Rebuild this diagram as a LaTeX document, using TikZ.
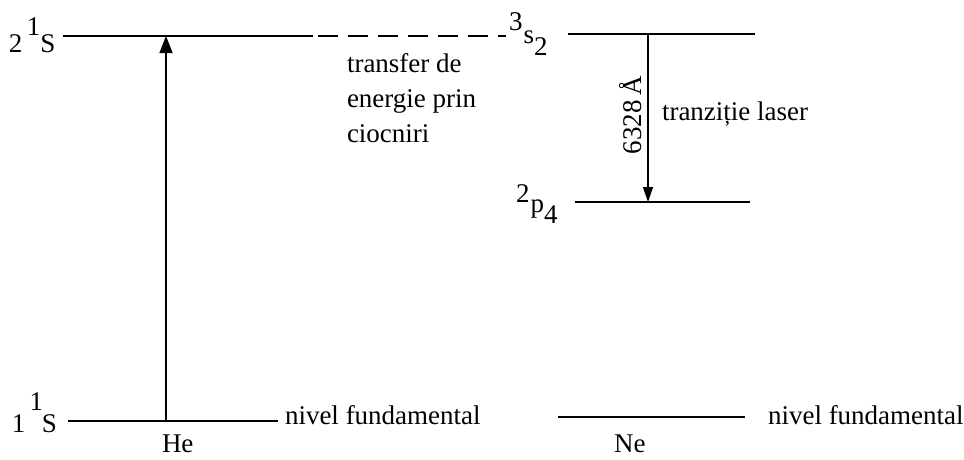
\documentclass[tikz,border=0pt]{standalone}
\usepackage{fontspec}
\setmainfont{Liberation Serif}
\usetikzlibrary{arrows.meta}
\begin{document}
\begin{tikzpicture}[x=1pt,y=-1pt,
  every node/.style={inner sep=0pt,outer sep=0pt,font=\fontsize{27}{35}\selectfont},
  level/.style={line width=1.3pt},
  txt/.style={anchor=base west},
  up/.style={line width=1.3pt,-{Triangle[length=17pt,width=13pt]}},
  down/.style={line width=1.3pt,-{Triangle[length=15pt,width=10pt]}}]
\useasboundingbox (0,0) rectangle (964,459);
% He levels
\coordinate (he2a) at (63,36);
\coordinate (he2b) at (313,36);
\coordinate (he1a) at (68,421);
\coordinate (he1b) at (278,421);
\coordinate (heup0) at (166,421);
\coordinate (heup1) at (166,36);
\draw[level] (he2a) -- (he2b);
\draw[level] (he1a) -- (he1b);
\draw[up] (heup0) -- (heup1);
% dashed transfer
\coordinate (da) at (318,36);
\coordinate (db) at (506,36);
\draw[level,dash pattern=on 20pt off 10pt] (da) -- (db);
% Ne levels
\coordinate (ne3a) at (568,34);
\coordinate (ne3b) at (755,34);
\coordinate (ne2a) at (575,202);
\coordinate (ne2b) at (750,202);
\coordinate (ne1a) at (558,417);
\coordinate (ne1b) at (745,417);
\coordinate (las0) at (648,34);
\coordinate (las1) at (648,202);
\draw[level] (ne3a) -- (ne3b);
\draw[level] (ne2a) -- (ne2b);
\draw[level] (ne1a) -- (ne1b);
\draw[down] (las0) -- (las1);
% labels
\node[txt] (l21s) at (9,52) {2\kern4.5pt\raisebox{17pt}{1}\kern0pt S};
\node[txt] (l11s) at (12,432) {1\kern4pt\raisebox{22pt}{1}\kern-1pt S};
\node[txt] (l3s2) at (509,43) {\raisebox{13pt}{3}\kern1pt s\kern0pt\raisebox{-12pt}{2}};
\node[txt] (l2p4) at (516,212) {\raisebox{10pt}{2}\kern1pt p\kern0pt\raisebox{-11pt}{4}};
\node[anchor=north west,align=left] (transfer) at (347,53) {transfer de\\energie prin\\ciocniri};
\node[rotate=90,anchor=base] (wl) at (641,115) {6328\,Å};
\node[txt] (tl) at (662,120) {tranziție laser};
\node[txt] (nf1) at (285,424) {nivel fundamental};
\node[txt] (nf2) at (768,424) {nivel fundamental};
\node[txt] (he) at (162,452) {He};
\node[txt] (ne) at (614,452) {Ne};
\end{tikzpicture}
\end{document}
